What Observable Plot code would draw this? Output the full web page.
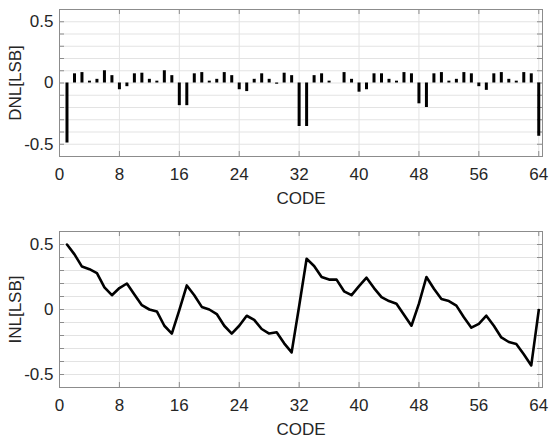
<!DOCTYPE html>
<html>
<head>
<meta charset="utf-8">
<script src="https://cdn.jsdelivr.net/npm/d3@7"></script>
<script src="https://cdn.jsdelivr.net/npm/@observablehq/plot@0.6"></script>
<style>
  html, body { margin: 0; padding: 0; background: #fff; }
  #chart svg { display: block; }
</style>
</head>
<body>
<div id="chart"></div>
<script>
const codes = d3.range(1, 65);
const dnl = [-0.49, 0.075, 0.085, 0.015, 0.03, 0.1, 0.06, -0.055, -0.03, 0.075,
  0.08, 0.03, 0.015, 0.1, 0.06, -0.185, -0.185, 0.075, 0.085, 0.015,
  0.03, 0.085, 0.06, -0.055, -0.07, 0.03, 0.075, 0.03, -0.01, 0.08,
  0.06, -0.355, -0.355, 0.06, 0.075, 0.015, 0.0, 0.085, 0.03, -0.075,
  -0.055, 0.075, 0.075, 0.03, 0.015, 0.085, 0.075, -0.17, -0.2, 0.075,
  0.085, 0.015, 0.03, 0.085, 0.075, -0.03, -0.06, 0.075, 0.085, 0.03,
  0.015, 0.085, 0.075, -0.435];
const inl = [0.5, 0.424, 0.33, 0.31, 0.28, 0.17, 0.11, 0.165, 0.2, 0.115,
  0.033, 0.0, -0.015, -0.125, -0.185, -0.005, 0.185, 0.11, 0.02, 0.0,
  -0.035, -0.125, -0.185, -0.125, -0.048, -0.08, -0.15, -0.185, -0.175, -0.26,
  -0.33, 0.025, 0.39, 0.335, 0.25, 0.23, 0.23, 0.14, 0.11, 0.18,
  0.245, 0.165, 0.095, 0.065, 0.045, -0.04, -0.125, 0.045, 0.25, 0.16,
  0.08, 0.065, 0.03, -0.06, -0.14, -0.11, -0.048, -0.125, -0.215, -0.25,
  -0.265, -0.345, -0.43, -0.005];
const xTicks = [0, 8, 16, 24, 32, 40, 48, 56, 64];
const yTicks = [-0.5, 0, 0.5];
const yMinor = [-0.5, -0.4, -0.3, -0.2, -0.1, 0, 0.1, 0.2, 0.3, 0.4, 0.5];
const xLabel = "CODE";
const dnlLabel = "DNL[LSB]";
const inlLabel = "INL[LSB]";

const FONT = "Liberation Sans, Arial, Helvetica, sans-serif";
const TXT = "#262626";
const FRAME = "#8c8c8c";
const GRID = "#e3e3e3";

function decor(innerH, innerW, ylab) {
  return [
    Plot.ruleY(yMinor, {y: d => d, stroke: GRID, strokeWidth: 1}),
    Plot.ruleX(xTicks, {x: d => d, stroke: GRID, strokeWidth: 1}),
    Plot.tickX(xTicks, {x: d => d, stroke: FRAME, insetTop: innerH - 5}),
    Plot.tickX(xTicks, {x: d => d, stroke: FRAME, insetBottom: innerH - 5}),
    Plot.tickY(yMinor, {y: d => d, stroke: FRAME, insetRight: innerW - 5}),
    Plot.tickY(yMinor, {y: d => d, stroke: FRAME, insetLeft: innerW - 5}),
    Plot.text(xTicks, {x: d => d, text: d => String(d), frameAnchor: "bottom", dy: 18, lineAnchor: "middle", textAnchor: "middle", fill: TXT, fontSize: 17}),
    Plot.text(yTicks, {y: d => d, text: d => String(d), frameAnchor: "left", dx: -6, textAnchor: "end", lineAnchor: "middle", fill: TXT, fontSize: 17}),
    Plot.text([xLabel], {text: d => d, frameAnchor: "bottom", dy: 42, lineAnchor: "middle", textAnchor: "middle", fill: TXT, fontSize: 17}),
    Plot.text([ylab], {text: d => d, frameAnchor: "left", dx: -44, rotate: -90, textAnchor: "middle", lineAnchor: "middle", fill: TXT, fontSize: 17})
  ];
}

const W = 549, ML = 59, MR = 7;
const innerW = W - ML - MR;

// top panel
const h1 = 215, mt1 = 9, mb1 = 59;
const dnlPlot = Plot.plot({
  width: W, height: h1, marginLeft: ML, marginRight: MR, marginTop: mt1, marginBottom: mb1,
  style: {fontFamily: FONT, fontSize: "17px", background: "white", color: TXT},
  x: {domain: [0, 64.5], axis: null},
  y: {domain: [-0.6, 0.6], axis: null},
  marks: [
    ...decor(h1 - mt1 - mb1, innerW, dnlLabel),
    Plot.ruleX(codes, {x: d => d, y1: 0, y2: (d, i) => dnl[i], stroke: "#000", strokeWidth: 3}),
    Plot.frame({stroke: FRAME})
  ]
});

// bottom panel
const h2 = 224, mt2 = 16, mb2 = 52;
const inlPlot = Plot.plot({
  width: W, height: h2, marginLeft: ML, marginRight: MR, marginTop: mt2, marginBottom: mb2,
  style: {fontFamily: FONT, fontSize: "17px", background: "white", color: TXT},
  x: {domain: [0, 64.5], axis: null},
  y: {domain: [-0.6, 0.6], axis: null},
  marks: [
    ...decor(h2 - mt2 - mb2, innerW, inlLabel),
    Plot.line(codes, {x: d => d, y: (d, i) => inl[i], stroke: "#000", strokeWidth: 2.6, strokeLinejoin: "round"}),
    Plot.frame({stroke: FRAME})
  ]
});

document.getElementById("chart").append(dnlPlot, inlPlot);
</script>
</body>
</html>
